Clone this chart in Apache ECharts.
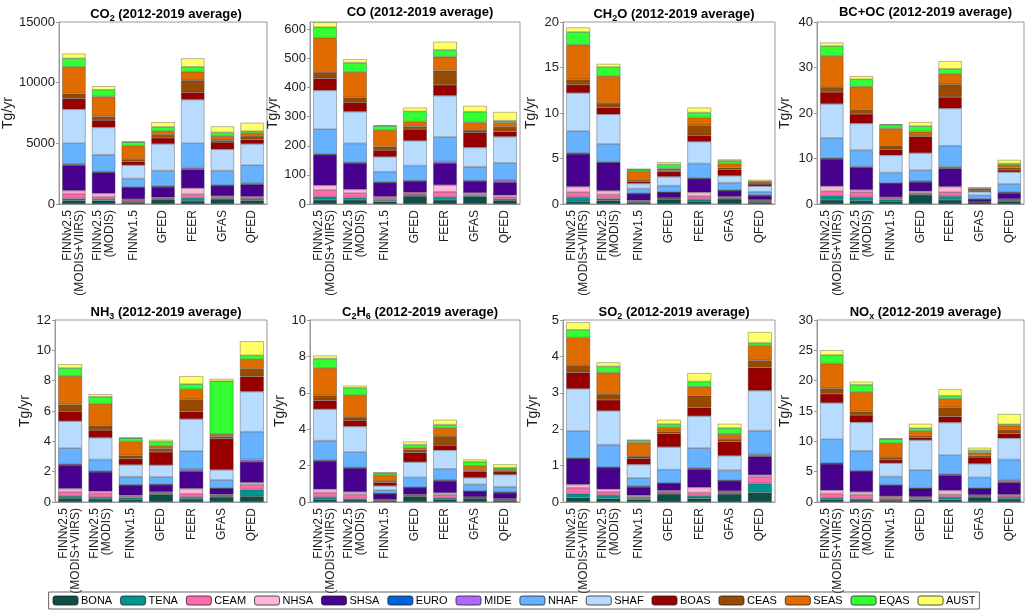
<!DOCTYPE html>
<html>
<head>
<meta charset="utf-8">
<title>Fire emissions by region</title>
<script src="https://cdn.jsdelivr.net/npm/echarts@6/dist/echarts.min.js"></script>
<style>
  html, body { margin: 0; padding: 0; background: #fff; }
  #chart { width: 1028px; height: 610px; }
</style>
</head>
<body>
<div id="chart"></div>
<script>
// Regions (stack order, bottom to top) and their colours
var regions = ['BONA', 'TENA', 'CEAM', 'NHSA', 'SHSA', 'EURO', 'MIDE', 'NHAF', 'SHAF', 'BOAS', 'CEAS', 'SEAS', 'EQAS', 'AUST'];
var regionColors = ['#0b4f47', '#00958f', '#ff69ad', '#ffb6d8', '#48008f', '#0064d8', '#b266ff', '#66b2ff', '#b8dcff', '#980000', '#984b00', '#e06c00', '#33ff33', '#ffff66'];

// Inventories (x categories)
var inventories = ['FINNv2.5\n(MODIS+VIIRS)', 'FINNv2.5\n(MODIS)', 'FINNv1.5', 'GFED', 'FEER', 'GFAS', 'QFED'];

// Values in Tg/yr: one row per inventory, one column per region
var co2 = [
    [300, 150, 400, 250, 2100, 50, 50, 1700, 2800, 900, 400, 2200, 700, 400],
    [280, 120, 200, 270, 1730, 30, 30, 1400, 2250, 600, 300, 1650, 550, 300],
    [150, 80, 120, 50, 950, 20, 30, 700, 1100, 300, 200, 1100, 300, 50],
    [350, 50, 80, 70, 850, 20, 30, 1300, 2200, 500, 250, 300, 350, 400],
    [250, 250, 300, 500, 1550, 50, 100, 2000, 3600, 600, 1000, 700, 400, 700],
    [400, 50, 100, 100, 850, 10, 40, 1200, 1750, 600, 150, 350, 300, 500],
    [300, 100, 100, 100, 1000, 20, 80, 1500, 1750, 350, 300, 250, 150, 700]
];
var co = [
    [14, 11, 23, 16, 105, 1, 2, 85, 133, 41, 22, 118, 36, 17],
    [14, 8, 15, 13, 90, 1, 1, 66, 109, 32, 17, 87, 32, 12],
    [8, 5, 8, 4, 48, 1, 2, 35, 51, 23, 12, 57, 14, 2],
    [27, 3, 5, 4, 39, 0.5, 1.5, 52, 85, 40, 9, 17, 35, 13],
    [14, 10, 18, 23, 75, 1, 5, 84, 142, 37, 49, 48, 23, 28],
    [25, 3, 5, 5, 40, 0.5, 1.5, 48, 66, 52, 8, 26, 37, 20],
    [13, 4, 7, 6, 45, 2, 6, 58, 90, 18, 16, 15, 6, 30]
];
var ch2o = [
    [0.3, 0.45, 0.55, 0.6, 3.6, 0.03, 0.07, 2.4, 4.2, 0.9, 0.6, 3.8, 1.4, 0.5],
    [0.4, 0.2, 0.45, 0.4, 3.1, 0.02, 0.08, 1.95, 3.25, 0.75, 0.5, 2.95, 1.0, 0.35],
    [0.15, 0.05, 0.12, 0.08, 0.72, 0.01, 0.02, 0.55, 0.55, 0.2, 0.2, 0.95, 0.2, 0.05],
    [0.5, 0.05, 0.07, 0.05, 0.6, 0.01, 0.02, 0.72, 0.98, 0.55, 0.15, 0.2, 0.45, 0.25],
    [0.3, 0.22, 0.35, 0.4, 1.5, 0.03, 0.05, 1.6, 2.4, 0.7, 1.1, 0.85, 0.55, 0.55],
    [0.55, 0.05, 0.1, 0.1, 0.65, 0.01, 0.04, 0.85, 0.75, 0.7, 0.2, 0.45, 0.3, 0.15],
    [0.2, 0.1, 0.08, 0.07, 0.45, 0.02, 0.08, 0.35, 0.6, 0.25, 0.12, 0.1, 0.05, 0.18]
];
var bcoc = [
    [0.9, 0.9, 1.0, 1.1, 6.0, 0.05, 0.15, 4.4, 7.5, 2.6, 1.1, 6.8, 2.2, 0.8],
    [0.7, 0.8, 1.1, 0.5, 4.9, 0.05, 0.15, 3.6, 5.9, 2.1, 0.9, 5.1, 1.6, 0.7],
    [0.6, 0.4, 0.3, 0.2, 3.0, 0.02, 0.08, 2.3, 3.8, 1.3, 0.8, 3.8, 0.8, 0.1],
    [2.0, 0.1, 0.4, 0.3, 2.0, 0.05, 0.15, 2.4, 3.8, 3.6, 0.3, 0.8, 1.2, 0.9],
    [0.9, 0.8, 0.9, 1.2, 4.0, 0.1, 0.3, 4.6, 8.2, 2.5, 2.8, 2.3, 1.1, 1.7],
    [0.3, 0.05, 0.1, 0.05, 0.5, 0.02, 0.08, 0.8, 0.8, 0.3, 0.15, 0.15, 0.1, 0.3],
    [0.6, 0.2, 0.2, 0.1, 1.3, 0.05, 0.15, 1.8, 2.6, 0.5, 0.5, 0.6, 0.3, 0.8]
];
var nh3 = [
    [0.25, 0.15, 0.26, 0.22, 1.55, 0.02, 0.05, 1.05, 1.78, 0.65, 0.45, 1.87, 0.53, 0.25],
    [0.2, 0.12, 0.25, 0.13, 1.28, 0.01, 0.03, 0.78, 1.44, 0.5, 0.3, 1.43, 0.47, 0.17],
    [0.18, 0.1, 0.1, 0.06, 0.66, 0.01, 0.02, 0.54, 0.78, 0.4, 0.22, 0.92, 0.22, 0.03],
    [0.5, 0.05, 0.06, 0.05, 0.47, 0.01, 0.01, 0.5, 0.78, 0.87, 0.23, 0.17, 0.27, 0.13],
    [0.2, 0.13, 0.22, 0.33, 1.15, 0.03, 0.1, 1.19, 2.12, 0.49, 0.81, 0.66, 0.34, 0.53],
    [0.33, 0.05, 0.07, 0.05, 0.38, 0.01, 0.01, 0.55, 0.67, 2.05, 0.15, 0.15, 3.49, 0.16],
    [0.38, 0.44, 0.33, 0.13, 1.37, 0.05, 0.1, 1.83, 2.65, 0.99, 0.51, 0.64, 0.25, 0.93]
];
var c2h6 = [
    [0.15, 0.12, 0.25, 0.18, 1.55, 0.01, 0.02, 1.09, 1.73, 0.48, 0.28, 1.51, 0.51, 0.17],
    [0.12, 0.06, 0.24, 0.13, 1.31, 0.01, 0.02, 0.85, 1.41, 0.34, 0.18, 1.2, 0.4, 0.12],
    [0.05, 0.03, 0.05, 0.02, 0.3, 0.005, 0.01, 0.18, 0.24, 0.19, 0.07, 0.33, 0.12, 0.02],
    [0.3, 0.03, 0.05, 0.03, 0.37, 0.01, 0.01, 0.55, 0.84, 0.53, 0.15, 0.1, 0.18, 0.17],
    [0.15, 0.07, 0.18, 0.1, 0.66, 0.02, 0.04, 0.6, 1.02, 0.28, 0.5, 0.45, 0.18, 0.27],
    [0.2, 0.03, 0.03, 0.02, 0.3, 0.005, 0.01, 0.37, 0.37, 0.33, 0.05, 0.27, 0.23, 0.12],
    [0.08, 0.03, 0.04, 0.03, 0.32, 0.01, 0.02, 0.3, 0.67, 0.16, 0.05, 0.09, 0.08, 0.19]
];
var so2 = [
    [0.12, 0.11, 0.16, 0.09, 0.71, 0.005, 0.015, 0.74, 1.16, 0.45, 0.2, 0.76, 0.21, 0.21],
    [0.09, 0.1, 0.09, 0.07, 0.59, 0.005, 0.01, 0.62, 0.93, 0.3, 0.16, 0.59, 0.17, 0.11],
    [0.07, 0.03, 0.05, 0.03, 0.23, 0.005, 0.015, 0.23, 0.37, 0.17, 0.06, 0.37, 0.06, 0.02],
    [0.22, 0.02, 0.04, 0.03, 0.2, 0.005, 0.005, 0.37, 0.62, 0.37, 0.06, 0.11, 0.09, 0.12],
    [0.1, 0.07, 0.09, 0.14, 0.5, 0.01, 0.02, 0.55, 0.88, 0.23, 0.33, 0.25, 0.14, 0.23],
    [0.22, 0.03, 0.03, 0.02, 0.28, 0.005, 0.005, 0.28, 0.4, 0.39, 0.07, 0.13, 0.17, 0.12],
    [0.26, 0.25, 0.18, 0.05, 0.51, 0.01, 0.05, 0.65, 1.1, 0.63, 0.2, 0.41, 0.07, 0.3]
];
var nox = [
    [0.44, 0.22, 0.72, 0.55, 4.35, 0.03, 0.07, 3.95, 6.0, 1.5, 0.9, 4.1, 1.4, 0.8],
    [0.35, 0.2, 0.67, 0.44, 3.4, 0.02, 0.05, 3.3, 4.7, 1.2, 0.6, 3.2, 1.2, 0.5],
    [0.3, 0.2, 0.3, 0.15, 1.8, 0.02, 0.03, 1.4, 2.2, 0.55, 0.45, 2.3, 0.7, 0.05],
    [0.4, 0.15, 0.2, 0.1, 1.35, 0.02, 0.03, 3.0, 4.95, 0.4, 0.3, 0.8, 0.45, 0.75],
    [0.4, 0.4, 0.45, 0.65, 2.5, 0.05, 0.15, 3.1, 5.4, 1.0, 1.5, 1.4, 0.5, 1.1],
    [0.8, 0.1, 0.15, 0.1, 1.05, 0.01, 0.04, 1.8, 2.25, 1.1, 0.25, 0.5, 0.35, 0.45],
    [0.5, 0.3, 0.25, 0.15, 2.0, 0.05, 0.35, 3.4, 3.5, 0.8, 0.6, 0.7, 0.2, 1.7]
];

// Panels: title pieces (name, subscript, rest), data, y range
var panelNames = [['CO', '2', ''], ['CO', '', ''], ['CH', '2', 'O'], ['BC+OC', '', ''],
                  ['NH', '3', ''], ['C', '2', 'H6'], ['SO', '2', ''], ['NO', 'x', '']];
var panelData = [co2, co, ch2o, bcoc, nh3, c2h6, so2, nox];
var yMax = [15000, 625, 20, 40, 12, 10, 5, 30];
var yInterval = [5000, 100, 5, 10, 2, 2, 1, 5];

// Layout of the 2 x 4 panels (pixels)
var gridLeft = [55, 310, 563, 817];
var gridWidth = [212, 210, 212, 207];
var gridTop = [22, 320];
var gridHeight = 182;
var nameGap = [40, 28, 25, 25, 19, 20, 23, 25];

var chart = echarts.init(document.getElementById('chart'));

var fontFamily = '"Liberation Sans", Arial, Helvetica, sans-serif';
var grids = [], xAxes = [], yAxes = [], titles = [], series = [];

panelData.forEach(function (rows, p) {
    var col = p % 4, row = Math.floor(p / 4);

    // Setup grid
    grids.push({
        left: gridLeft[col], top: gridTop[row],
        width: gridWidth[col], height: gridHeight,
        show: true, borderColor: '#999', borderWidth: 1,
        backgroundColor: '#fff'
    });

    // Title with subscript (C2H6 has two)
    var n = panelNames[p];
    var rest = n[2] === 'H6' ? '{b|H}{s|6}' : (n[2] ? '{b|' + n[2] + '}' : '');
    var text = '{b|' + n[0] + '}' + (n[1] ? '{s|' + n[1] + '}' : '') + rest +
               '{b| (2012-2019 average)}';
    titles.push({
        text: text,
        left: gridLeft[col] + gridWidth[col] / 2,
        top: gridTop[row] - 21,
        textAlign: 'center',
        textStyle: {
            fontFamily: fontFamily,
            rich: {
                b: { fontSize: 13, fontWeight: 'bold', color: '#000', fontFamily: fontFamily },
                s: { fontSize: 9, fontWeight: 'bold', color: '#000', fontFamily: fontFamily, padding: [8, 0, 0, 0] }
            }
        }
    });

    // Horizontal axis
    xAxes.push({
        type: 'category',
        gridIndex: p,
        data: inventories,
        axisLine: { lineStyle: { color: '#999' } },
        axisTick: { show: false },
        axisLabel: {
            interval: 0,
            rotate: 90,
            fontSize: 12,
            lineHeight: 12,
            color: '#222',
            fontFamily: fontFamily,
            margin: 6
        }
    });

    // Vertical axis
    yAxes.push({
        type: 'value',
        gridIndex: p,
        min: 0,
        max: yMax[p],
        interval: yInterval[p],
        name: 'Tg/yr',
        nameLocation: 'middle',
        nameGap: nameGap[p],
        nameTextStyle: { fontSize: 14, color: '#222', fontFamily: fontFamily },
        axisLine: { show: true, lineStyle: { color: '#999' } },
        axisTick: { show: true, length: 3, lineStyle: { color: '#999' } },
        axisLabel: {
            fontSize: 13, color: '#222', fontFamily: fontFamily, margin: 4,
            showMaxLabel: p !== 1,
            formatter: function (v) { return String(v); }
        },
        splitLine: { show: false }
    });

    // One stacked bar series per region
    regions.forEach(function (region, r) {
        series.push({
            name: region,
            type: 'bar',
            stack: 'panel' + p,
            xAxisIndex: p,
            yAxisIndex: p,
            barCategoryGap: '21%',
            data: rows.map(function (vals) { return vals[r]; }),
            itemStyle: {
                color: regionColors[r],
                borderColor: 'rgba(40,40,40,0.55)',
                borderWidth: 0.6
            },
            emphasis: { disabled: true }
        });
    });
});

chart.setOption({
    animation: false,
    textStyle: { fontFamily: fontFamily },
    title: titles,
    grid: grids,
    xAxis: xAxes,
    yAxis: yAxes,
    series: series,

    // Add legend
    legend: {
        data: regions,
        left: 'center',
        bottom: 1,
        itemWidth: 25,
        itemHeight: 9,
        itemGap: 8,
        padding: [3, 4],
        borderColor: '#666',
        borderWidth: 1,
        itemStyle: { borderColor: '#222', borderWidth: 0.8 },
        textStyle: { fontSize: 11, color: '#000', fontFamily: fontFamily, padding: [0, 0, 0, -2] }
    }
});
</script>
</body>
</html>
